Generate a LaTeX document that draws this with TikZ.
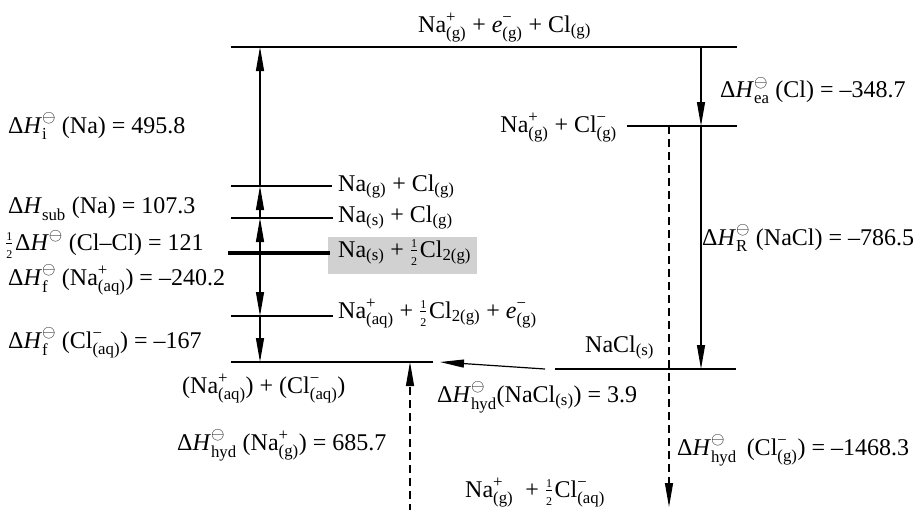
\documentclass[tikz,border=0pt]{standalone}
\usepackage{amsmath}
\usepackage{fontspec}
\setmainfont{Liberation Serif}
\usetikzlibrary{arrows.meta}
\newcommand{\sx}[2]{\ensuremath{^{\text{#1}}_{\text{#2}}}}
\newcommand{\lo}[1]{\ensuremath{_{\text{#1}}}}
\newcommand{\std}[1]{\ensuremath{^{\ominus}_{\text{#1}}}}
\newcommand{\hdig}[1]{\text{\fontsize{12}{12}\selectfont #1}}
\newcommand{\half}{\ensuremath{\frac{\hdig{1}}{\hdig{2}}}\kern1.5pt}
\newcommand{\dH}{Δ\textit{H\/}}
\tikzset{
  txt/.style={font=\fontsize{24}{28}\selectfont, inner sep=0pt, anchor=base west},
  lvl/.style={line width=1.2pt},
  thk/.style={line width=2.6pt},
  thkk/.style={line width=3.4pt},
  arr/.style={line width=1.2pt, -{Triangle[length=24pt,width=8pt]}},
  darr/.style={line width=1.2pt, dash pattern=on 8pt off 5pt, -{Triangle[length=24pt,width=8pt]}},
}
\begin{document}
\begin{tikzpicture}[x=1pt,y=-1pt]
\useasboundingbox (0,0) rectangle (918,509);
% level endpoints
\coordinate (T0) at (231,47);   \coordinate (T1) at (737,47);
\coordinate (G0) at (627,126);  \coordinate (G1) at (737,126);
\coordinate (L1a) at (231,186); \coordinate (L1b) at (332,186);
\coordinate (L2a) at (231,218); \coordinate (L2b) at (333,218);
\coordinate (L3a) at (228,253); \coordinate (L3b) at (330,253);
\coordinate (L4a) at (231,316); \coordinate (L4b) at (333,316);
\coordinate (L5a) at (231,362); \coordinate (L5b) at (433,362);
\coordinate (L6a) at (555,369); \coordinate (L6b) at (736,369);
% gray box
\node[fill=black!18, inner sep=0pt, minimum width=149pt, minimum height=37pt, anchor=north west] (box) at (328,237) {};
% levels
\draw[lvl] (T0) -- (T1);
\draw[thk] (G0) -- (G1);
\draw[lvl] (L1a) -- (L1b);
\draw[lvl] (L2a) -- (L2b);
\draw[thkk] (L3a) -- (L3b);
\draw[lvl] (L4a) -- (L4b);
\draw[lvl] (L5a) -- (L5b);
\draw[lvl] (L6a) -- (L6b);
% left arrows
\coordinate (a0) at (260,47);
\coordinate (a1) at (260,186);
\coordinate (a2) at (260,218);
\coordinate (a3) at (260,253);
\coordinate (a4) at (260,316);
\coordinate (a5) at (260,362);
\draw[arr] (a1) -- (a0);
\draw[arr] (a2) -- (a1);
\draw[arr] (a3) -- (a2);
\draw[arr] (a3) -- (a4);
\draw[arr] (a4) -- (a5);
% right arrows
\coordinate (b0) at (701,47);
\coordinate (b1) at (701,126);
\coordinate (b2) at (701,369);
\draw[arr] (b0) -- (b1);
\draw[arr] (b1) -- (b2);
% dashed
\coordinate (d0) at (669,126);
\coordinate (d1) at (669,507);
\draw[darr] (d0) -- (d1);
\coordinate (e0) at (410,512);
\coordinate (e1) at (410,362);
\draw[darr] (e0) -- (e1);
% hydration arrow
\coordinate (c0) at (545,369);
\coordinate (c1) at (440,362);
\draw[arr] (c0) -- (c1);
% texts
\node[txt] (t1) at (418,32) {Na\sx{+}{(g)} + \textit{e}\sx{−}{(g)} + Cl\lo{(g)}};
\node[txt] (t2) at (8,133) {\dH\std{i} (Na) = 495.8};
\node[txt] (t3) at (720,97) {\dH\std{ea} (Cl) = –348.7};
\node[txt, anchor=base east] (t4) at (617,132) {Na\sx{+}{(g)} + Cl\sx{−}{(g)}};
\node[txt] (t5) at (338,191) {Na\lo{(g)} + Cl\lo{(g)}};
\node[txt] (t6) at (8,213) {\dH\ensuremath{^{\vphantom{\ominus}}_{\text{sub}}} (Na) = 107.3};
\node[txt] (t7) at (338,222) {Na\lo{(s)} + Cl\lo{(g)}};
\node[txt] (t8) at (5,250) {\half\dH\ensuremath{^{\ominus}} (Cl–Cl) = 121};
\node[txt] (t9) at (338,257) {Na\lo{(s)} + \half Cl\lo{2(g)}};
\node[txt] (t10) at (8,285) {\dH\std{f} (Na\sx{+}{(aq)}) = –240.2};
\node[txt] (t11) at (338,318) {Na\sx{+}{(aq)} + \half Cl\lo{2(g)} + \textit{e}\sx{−}{(g)}};
\node[txt] (t12) at (8,348) {\dH\std{f} (Cl\sx{−}{(aq)}) = –167};
\node[txt] (t13) at (585,352) {NaCl\lo{(s)}};
\node[txt] (t14) at (182,393) {(Na\sx{+}{(aq)}) + (Cl\sx{−}{(aq)})};
\node[txt] (t15) at (437,402) {\dH\std{hyd}(NaCl\lo{(s)}) = 3.9};
\node[txt] (t16) at (177,450) {\dH\std{hyd} (Na\sx{+}{(g)}) = 685.7};
\node[txt] (t17) at (702,245) {\dH\std{R} (NaCl) = –786.5};
\node[txt] (t18) at (677,455) {\dH\std{hyd} \,(Cl\sx{−}{(g)}) = –1468.3};
\node[txt] (t19) at (465,497) {Na\sx{+}{(g)} \ + \half Cl\sx{−}{(aq)}};
\end{tikzpicture}
\end{document}
